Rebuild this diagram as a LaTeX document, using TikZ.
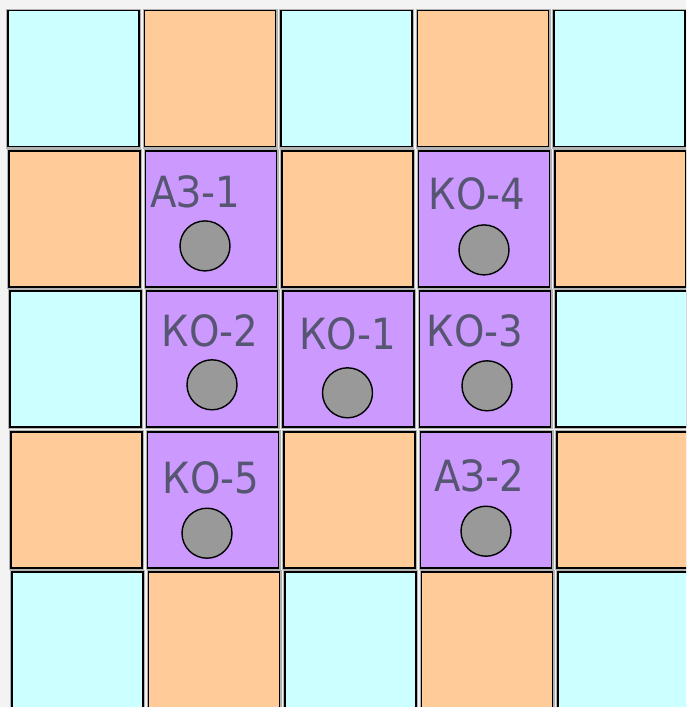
\documentclass[tikz,border=0pt]{standalone}
\usepackage{fontspec}
\setmainfont{DejaVu Sans Condensed}
\usepackage{tikz}
\usetikzlibrary{calc}
\definecolor{cy}{HTML}{CCFFFF}
\definecolor{or}{HTML}{FFCC99}
\definecolor{pu}{HTML}{CC99FF}
\definecolor{rodgray}{HTML}{999999}
\definecolor{lblcol}{HTML}{565672}
\definecolor{bgcol}{HTML}{F3F3F3}

\begin{document}
\begin{tikzpicture}[x=1pt,y=-1pt,
  cell/.style={rectangle,fill=#1,draw=black,line width=1.7pt,minimum width=131pt,minimum height=136pt,inner sep=0pt,preaction={draw=gray!60,line width=4pt}},
  rod/.style={circle,fill=rodgray,draw=black,line width=1.4pt,minimum size=50pt,inner sep=0pt},
  lbl/.style={text=lblcol,inner sep=0pt,font=\fontsize{43}{43}\selectfont}]
\clip (0,0) rectangle (686,707);
\fill[bgcol] (0,0) rectangle (686,707);
% fuel grid, row by row
\foreach \a/\b/\cc/\d/\e [count=\r] in {cy/or/cy/or/cy,or/pu/or/pu/or,cy/pu/pu/pu/cy,or/pu/or/pu/or,cy/or/cy/or/cy} {
   \foreach \f [count=\c] in {\a,\b,\cc,\d,\e} {
      \node[cell=\f] (cell-\r-\c) at ({72.5+\r+136.5*(\c-1)},{78.5+140.4*(\r-1)}) {};
   }
}
% control rods
\foreach \cl/\txt/\tx/\ty/\ox/\oy in %
{2-2/АЗ-1/-16/-27/-6/27,2-4/КО-4/-7/-25/0/31,3-2/КО-2/-2/-28/0/25.5,3-3/КО-1/-1/-25/-1/33.5,
 3-4/КО-3/-10/-28/2/26.5,4-2/КО-5/-2/-22/-6/33.5,4-4/АЗ-2/-7/-24/0/31.5} {
   \node[rod] (rod-\cl) at ($(cell-\cl)+(\ox,\oy)$) {};
   \node[lbl] (lbl-\cl) at ($(cell-\cl)+(\tx,\ty)$) {\txt};
}
\end{tikzpicture}
\end{document}
